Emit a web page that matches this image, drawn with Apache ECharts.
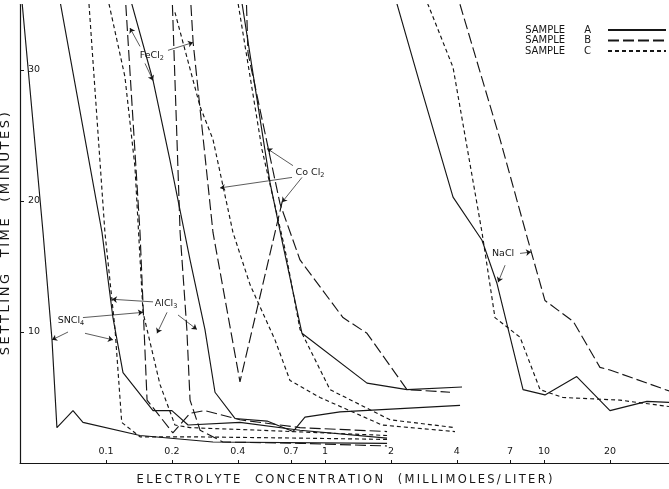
<!DOCTYPE html>
<html>
<head>
<meta charset="utf-8">
<script src="https://cdn.jsdelivr.net/npm/echarts@6/dist/echarts.min.js"></script>
<style>
  html, body { margin: 0; padding: 0; background: #fff; }
  #chart { width: 669px; height: 489px; }
</style>
</head>
<body>
<div id="chart"></div>
<script>
// electrolyte concentration (millimoles / liter), settling time (minutes)
const sncl4A = [[0.0405,36.9],[0.0516,17.6],[0.0567,9.4],[0.0597,2.7],[0.0707,4.0],[0.0785,3.1],[0.143,2.1],[0.308,1.6],[1.92,1.5]];
const sncl4B = [[0.122,36.1],[0.143,17.6],[0.154,4.8],[0.202,2.3],[0.242,3.8],[0.283,4.0],[0.409,3.3],[0.769,2.7],[1.92,2.4]];
const sncl4C = [[0.0828,36.1],[0.0989,17.6],[0.110,10.2],[0.118,3.1],[0.143,2.0],[0.242,2.0],[0.769,1.9],[1.92,1.8]];

const alcl3A = [[0.0604,36.1],[0.0959,17.6],[0.1076,11.1],[0.1196,6.9],[0.164,4.0],[0.200,4.0],[0.237,2.9],[0.409,3.1],[0.769,2.5],[1.92,1.9]];
const alcl3B = [[0.200,36.1],[0.218,17.6],[0.234,10.2],[0.242,4.8],[0.269,2.5],[0.342,1.6],[0.769,1.5],[1.92,1.3]];
const alcl3C = [[0.100,36.1],[0.122,29.5],[0.1356,22.6],[0.1476,11.5],[0.1764,6.0],[0.2065,2.9],[0.242,2.7],[0.505,2.5],[1.92,2.1]];

const fecl2A = [[0.126,36.1],[0.164,29.2],[0.196,23.1],[0.242,15.5],[0.283,10.2],[0.3146,5.4],[0.388,3.4],[0.544,3.2],[0.714,2.4],[0.810,3.5],[1.171,3.9],[4.135,4.4]];
const fecl2B = [[0.242,36.1],[0.250,32.1],[0.308,17.6],[0.409,6.2],[0.643,20.2]];
const fecl2C = [[0.2065,34.4],[0.269,27.2],[0.308,24.7],[0.380,17.6],[0.455,13.6],[0.591,9.4],[0.692,6.3],[0.949,5.0],[1.821,2.9],[3.923,2.4]];

const cocl2A = [[0.409,36.1],[0.561,21.4],[0.636,17.0],[0.785,9.9],[1.555,6.1],[2.368,5.6],[4.223,5.8]];
const cocl2B = [[0.436,36.1],[0.445,31.3],[0.623,19.8],[0.769,15.5],[1.208,11.1],[1.555,9.9],[2.368,5.6],[3.723,5.4]];
const cocl2C = [[0.392,36.1],[0.516,23.9],[0.657,16.3],[0.769,10.2],[1.054,5.6],[1.981,3.3],[3.923,2.7]];

const naclA = [[2.044,36.1],[2.716,28.9],[3.842,20.3],[5.21,17.0],[6.10,13.7],[8.02,5.6],[10.1,5.2],[14.1,6.6],[20.0,4.0],[29.5,4.7],[41.8,4.6]];
const naclB = [[3.923,36.1],[4.135,35.0],[6.30,24.7],[8.45,17.0],[10.1,12.4],[13.6,10.8],[18.0,7.3],[20.0,7.1],[29.5,6.1],[41.8,5.2]];
const naclC = [[2.80,36.1],[2.953,35.0],[3.842,30.2],[5.21,17.6],[5.49,15.1],[5.97,11.1],[7.77,9.6],[9.59,5.6],[12.2,5.0],[22.2,4.8],[41.8,4.2]];

const xTickValues = [0.1, 0.2, 0.4, 0.7, 1, 2, 4, 7, 10, 20];
const xTickLabels = ['0.1', '0.2', '0.4', '0.7', '1', '2', '4', '7', '10', '20'];
const yTickValues = [10, 20, 30];

const sampleNames = ['SAMPLE      A', 'SAMPLE      B', 'SAMPLE      C'];

// electrolyte labels and their leader arrows (data coordinates)
const noteTexts = ['{t|FeCl}{s|2}', '{t|Co Cl}{s|2}', '{t|AlCl}{s|3}', '{t|SNCl}{s|4}', '{t|NaCl}'];
const notePoints = [[0.162, 31.1], [0.854, 22.2], [0.188, 12.2], [0.0692, 10.9], [6.50, 16.0]];
const noteArrows = [
  [[0.143, 31.8], [0.1287, 33.2]],
  [[0.1507, 30.5], [0.164, 29.2]],
  [[0.1919, 31.5], [0.2496, 32.1]],
  [[0.714, 22.7], [0.544, 24.0]],
  [[0.707, 21.8], [0.332, 21.0]],
  [[0.785, 21.8], [0.636, 19.9]],
  [[0.164, 12.3], [0.1065, 12.5]],
  [[0.190, 11.5], [0.171, 9.9]],
  [[0.2132, 11.3], [0.260, 10.2]],
  [[0.0671, 10.0], [0.0567, 9.4]],
  [[0.0785, 11.1], [0.1476, 11.5]],
  [[0.0802, 9.9], [0.1076, 9.4]],
  [[6.64, 15.1], [6.17, 13.8]],
  [[7.77, 16.0], [8.72, 16.1]]
];

const curves = [
  [sncl4A, 0], [sncl4B, 1], [sncl4C, 2],
  [alcl3A, 0], [alcl3B, 1], [alcl3C, 2],
  [fecl2A, 0], [fecl2B, 1], [fecl2C, 2],
  [cocl2A, 0], [cocl2B, 1], [cocl2C, 2],
  [naclA, 0], [naclB, 1], [naclC, 2]
];
const dashes = ['solid', [11, 4], [4, 3]];
const ink = '#161616';
const font = 'DejaVu Sans';

// the original lettering is widely spaced: put a thin space between letters
function spaced(s) {
  return s.split(' ').map(function (w) { return w.split('').join('\u2009'); }).join(' ');
}

let chart = echarts.init(document.getElementById('chart'), null, { renderer: 'canvas' });

let series = curves.map(function (c) {
  return {
    type: 'line',
    name: sampleNames[c[1]],
    data: c[0],
    symbol: 'none',
    silent: true,
    clip: true,
    itemStyle: { color: ink },
    lineStyle: { color: ink, width: 1.15, type: dashes[c[1]] }
  };
});

// annotations
series.push({
  type: 'line',
  name: 'notes',
  data: [],
  silent: true,
  markPoint: {
    symbol: 'circle',
    symbolSize: 1,
    itemStyle: { color: 'rgba(0,0,0,0)' },
    label: {
      show: true,
      position: 'inside',
      color: ink,
      formatter: function (p) { return p.name; },
      rich: {
        t: { fontSize: 9.5, fontFamily: font, color: ink },
        s: { fontSize: 6.5, fontFamily: font, color: ink, padding: [6, 0, 0, 0] }
      }
    },
    data: notePoints.map(function (p, i) { return { name: noteTexts[i], coord: p }; })
  },
  markLine: {
    symbol: ['none', 'arrow'],
    symbolSize: 5,
    silent: true,
    label: { show: false },
    lineStyle: { color: ink, width: 0.7, type: 'solid' },
    emphasis: { disabled: true },
    data: noteArrows.map(function (a) { return [{ coord: a[0] }, { coord: a[1] }]; })
  }
});

chart.setOption({
  animation: false,
  backgroundColor: '#fff',
  grid: { left: 20, right: 0, top: 4.5, bottom: 26, containLabel: false, outerBoundsMode: 'none' },
  legend: {
    data: sampleNames,
    orient: 'vertical',
    right: 2,
    top: 25,
    padding: 0,
    align: 'right',
    itemWidth: 58,
    itemHeight: 8,
    itemGap: 0.5,
    selectedMode: false,
    itemStyle: { opacity: 0 },
    textStyle: { fontSize: 10, lineHeight: 8.5, fontFamily: font, color: ink, padding: [0, 12, 0, 0] }
  },
  xAxis: {
    type: 'log',
    logBase: 10,
    min: 0.0405,
    max: 37.2,
    name: spaced('ELECTROLYTE    CONCENTRATION    (MILLIMOLES/ LITER)'),
    nameLocation: 'middle',
    nameGap: 11,
    nameTextStyle: { fontSize: 11.5, fontFamily: font, color: ink },
    axisLine: { lineStyle: { color: ink, width: 1.2 } },
    axisTick: { inside: true, length: 3, customValues: xTickValues, lineStyle: { color: ink } },
    axisLabel: {
      inside: true,
      margin: 6,
      fontSize: 9.5,
      fontFamily: font,
      color: ink,
      customValues: xTickValues,
      formatter: function (v) {
        let i = xTickValues.findIndex(function (t) { return Math.abs(t - v) < 1e-6; });
        return i >= 0 ? xTickLabels[i] : '';
      }
    },
    splitLine: { show: false },
    minorTick: { show: false }
  },
  yAxis: {
    type: 'value',
    min: 0,
    max: 35,
    interval: 10,
    name: spaced('SETTLING    TIME    (MINUTES)'),
    nameLocation: 'middle',
    nameRotate: 90,
    nameGap: 7,
    nameTextStyle: { fontSize: 13, fontFamily: font, color: ink },
    axisLine: { show: true, lineStyle: { color: ink, width: 1.2 } },
    axisTick: { show: true, inside: true, length: 4, customValues: yTickValues, lineStyle: { color: ink } },
    axisLabel: { inside: true, margin: 8, fontSize: 9.5, fontFamily: font, color: ink, customValues: yTickValues },
    splitLine: { show: false }
  },
  series: series
});
</script>
</body>
</html>
